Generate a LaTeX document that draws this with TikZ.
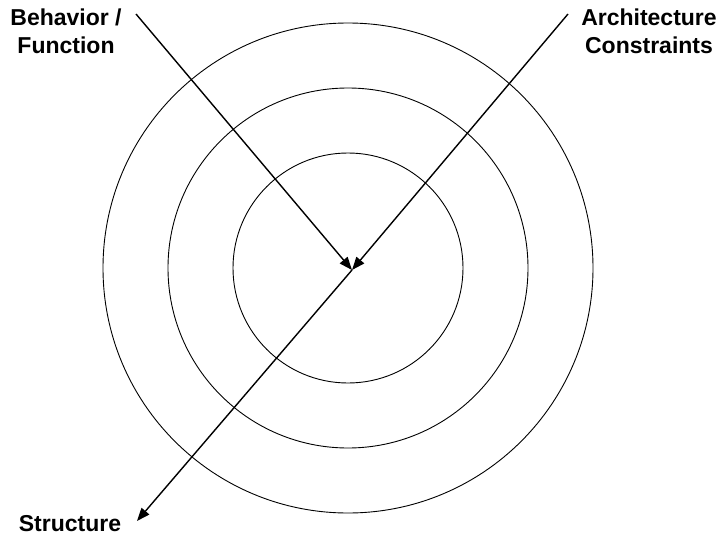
\documentclass[tikz,border=0pt]{standalone}
\usepackage{fontspec}
\setmainfont{Liberation Sans}
\usetikzlibrary{arrows.meta}

\begin{document}
\begin{tikzpicture}[
  x=1pt,
  y=-1pt,
  ring/.style={draw, circle, line width=0.9pt, inner sep=0pt},
  tag/.style={font=\fontsize{23}{28}\selectfont\bfseries, align=center,
    inner sep=0pt},
  arrow/.style={-{Triangle[length=13pt, width=10pt]}, line width=1.4pt}
]
  \useasboundingbox (0,0) rectangle (724,541);

  \node[ring, minimum size=490pt] (outer) at (348,268) {};
  \node[ring, minimum size=360pt] (middle) at (348,268) {};
  \node[ring, minimum size=230pt] (inner) at (348,268) {};

  \node[tag] (behavior) at (66,31) {Behavior /\\Function};
  \node[tag] (arch) at (649,31) {Architecture\\Constraints};
  \node[tag] (structure) at (70,524) {Structure};

  \coordinate (hub) at (352,270);
  \coordinate (bstart) at (136,14);
  \coordinate (astart) at (568,14);
  \coordinate (send) at (137,521);

  \draw[arrow] (bstart) -- (hub);
  \draw[arrow] (astart) -- (hub);
  \draw[arrow] (hub) -- (send);
\end{tikzpicture}
\end{document}
